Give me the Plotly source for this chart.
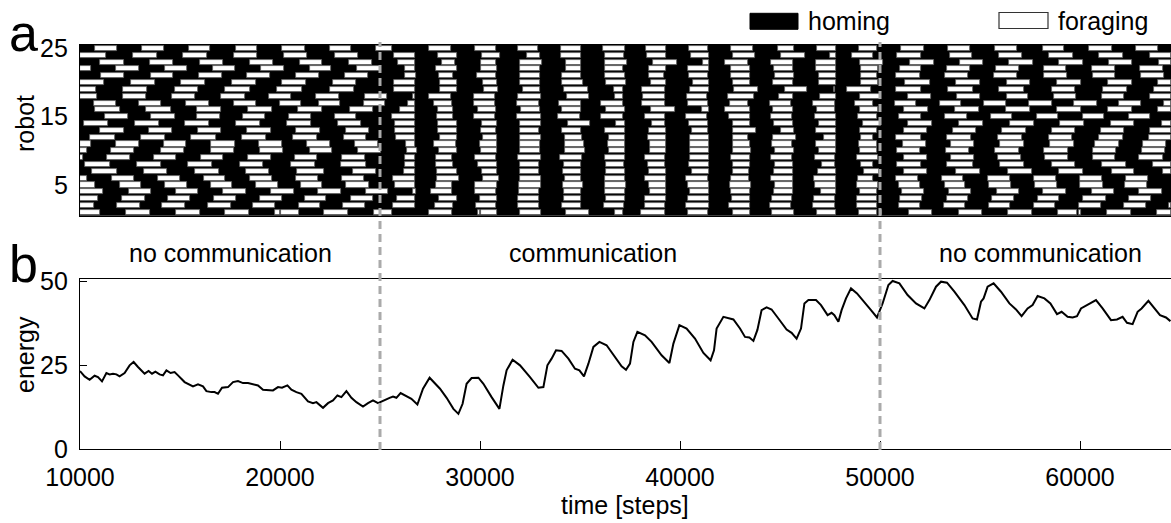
import plotly.graph_objects as go

# ---------------- data ----------------
robots = list(range(1, 26))

# foraging bouts per robot: [start, end] in simulation steps
r01 = [[10000,11000],[12300,13500],[14800,16000],[17250,18450],[19750,20000],[20050,20950],[22200,23400],[24700,25600],[27450,28600],[29900,30000],[30050,30850],[32000,33050],[34300,35450],[36750,37150],[38050,39250],[40400,41400],[42650,43500],[44600,45700],[46850,47800],[48950,49850],[50000,50100],[51450,52600],[53950,55100],[56400,57600],[58900,59850],[59950,60050],[61350,62550],[63850,64550]]
r02 = [[10000,10700],[11850,13000],[14100,15250],[16400,17550],[18650,19750],[20950,22000],[23150,24250],[25650,26750],[27750,28650],[29800,30800],[31900,32950],[34100,35050],[36200,37200],[38250,39250],[40300,41450],[42450,43500],[44500,45550],[46650,47750],[48850,49850],[50950,52000],[53200,54250],[55450,56500],[57700,58750],[59950,61050],[62200,63300],[64450,64550]]
r03 = [[10000,10900],[12100,13250],[14400,15500],[16700,17800],[19000,20100],[21250,22300],[23550,24650],[25850,26750],[27950,28850],[30000,30850],[31900,32950],[34200,35050],[36300,37250],[38250,39300],[40400,41450],[42600,43500],[44600,45600],[46700,47750],[48850,49850],[51000,52100],[53350,54400],[55600,56700],[57900,58950],[60150,61300],[62450,63550]]
r04 = [[10000,11150],[12450,13550],[14800,15900],[17150,18300],[19550,20700],[21900,23050],[24300,25400],[26650,26800],[27550,28600],[29750,30800],[31950,32950],[34200,35050],[36250,37250],[38500,39300],[40500,41450],[42550,43500],[44700,45650],[47050,47800],[49000,49850],[51100,52200],[53450,54550],[55850,56950],[58150,59300],[60600,61700],[62950,64100]]
r05 = [[10000,10750],[12000,13050],[14250,15350],[16550,17600],[18800,19900],[21050,22100],[23300,24450],[25750,26750],[27800,28600],[29750,30850],[31950,33050],[34150,35150],[36250,37300],[38450,39300],[40400,41450],[42500,43550],[44750,45650],[46750,47800],[48850,49900],[50950,52000],[53250,54250],[55450,56550],[57750,58850],[60000,61150],[62250,63350]]
r06 = [[10000,10350],[11600,12700],[13900,15000],[16200,17250],[18500,19600],[20800,21900],[23100,24200],[25650,26750],[27850,28950],[30150,30950],[32000,33050],[34250,35050],[36250,37250],[38250,39300],[40300,41400],[42550,43450],[44550,45650],[46700,47800],[48900,49650],[50800,51900],[53100,54150],[55400,56500],[57700,58800],[60000,61100],[62300,63400]]
r07 = [[10600,11850],[13200,14350],[15750,16950],[18300,19450],[20850,22200],[23650,24800],[26200,26750],[27850,28850],[30100,30850],[32000,32950],[34150,35050],[36300,37250],[38450,39300],[40600,41450],[42650,43450],[44700,45650],[46900,47800],[49200,49950],[51200,52350],[53800,55000],[56400,57600],[58950,60150],[61600,62700],[64150,64550]]
r08 = [[10250,11500],[12850,14050],[15400,16600],[18000,19150],[20550,21750],[23050,24300],[26250,26750],[27800,28650],[29900,30850],[32000,32950],[34200,35050],[36300,37200],[38400,39250],[40450,41450],[42650,43500],[44750,45650],[47100,47750],[49050,49650],[50850,52050],[53350,54650],[56000,57200],[58600,59750],[61100,62300],[63650,64550]]
r09 = [[10000,10150],[11350,12500],[13700,14800],[16050,17150],[18400,19550],[20750,21850],[23100,24250],[26250,26750],[27800,28600],[29750,30800],[31900,33050],[34000,35100],[36250,37250],[38250,39250],[40500,41450],[42550,43500],[44550,45600],[46750,47750],[48850,49900],[51200,52350],[53550,54700],[55900,57050],[58250,59400],[60650,61750],[62950,64150]]
r10 = [[10000,10350],[11550,12700],[14050,15200],[16550,17700],[19000,20150],[21500,22600],[23900,25050],[26350,26850],[27950,28850],[30050,30850],[32000,33000],[34250,35250],[36450,37250],[38500,39300],[40500,41450],[42650,43550],[44750,45700],[46950,47800],[49000,49850],[50850,52000],[53300,54450],[55750,56950],[58200,59400],[60650,61800],[63100,64250]]
r11 = [[10000,10550],[11800,12950],[14200,15300],[16550,17750],[18950,20100],[21350,22500],[23750,24900],[26300,26750],[27700,28800],[30000,30850],[32000,33000],[34250,35200],[36400,37250],[38500,39300],[40500,41450],[42650,43500],[44600,45600],[46800,47800],[48950,49850],[51150,52300],[53550,54700],[56000,57200],[58500,59700],[60750,61950],[63150,64300]]
r12 = [[10500,11750],[13050,14250],[15550,16800],[18100,19300],[20650,21850],[23200,24300],[25800,26750],[28000,28850],[30150,30850],[32000,33050],[34250,35100],[36450,37250],[38400,39300],[40500,41450],[42650,43400],[44650,45800],[47200,47800],[49050,49650],[50800,52050],[53350,54550],[55900,57100],[58450,59600],[60950,62150],[63450,64550]]
r13 = [[11000,12200],[13450,14600],[15900,17050],[18350,19550],[20800,22000],[23300,24450],[25750,26750],[27900,28850],[30050,30800],[32000,32950],[34100,35050],[36250,37250],[38450,39300],[40600,41400],[42650,43800],[45050,45700],[46800,47800],[49000,49850],[51200,52350],[53650,54800],[56100,57300],[58600,59750],[61050,62200],[63500,64550]]
r14 = [[10200,11400],[12750,13950],[15250,16450],[17800,19000],[20350,21550],[22900,24050],[25750,26750],[27900,28850],[30100,30850],[32000,33050],[34400,35500],[36800,37250],[38600,39250],[40450,41400],[42650,43500],[44700,45650],[46950,47800],[49150,50050],[51400,52600],[53950,55150],[56500,57700],[59000,60200],[61550,62700],[64100,64550]]
r15 = [[11250,12400],[13550,14750],[15850,17000],[18150,19250],[20450,21550],[22750,23800],[25600,26750],[27850,28650],[29700,30750],[31850,33050],[33900,35000],[36050,37150],[38250,39250],[40300,41350],[42450,43500],[44550,45600],[46750,47800],[48900,49850],[50950,52050],[53250,54350],[55550,56600],[57850,58900],[60150,61200],[62450,63500]]
r16 = [[10750,12000],[13300,14550],[15850,17050],[18400,19600],[20900,22100],[23500,24650],[26000,26750],[27900,28650],[29900,30800],[32050,33000],[34100,35050],[36300,37250],[38550,39750],[41100,41450],[42250,43500],[44650,45650],[46850,47750],[49000,49900],[51200,52400],[53750,54950],[56300,57500],[58850,60050],[61400,62600],[63900,64550]]
r17 = [[10700,11800],[12950,14050],[15300,16450],[17700,18800],[20000,21050],[21950,23000],[24200,25250],[26400,26750],[27700,28600],[29700,30750],[31850,32950],[33950,35050],[36050,37150],[38100,39250],[40400,41400],[42500,43400],[44500,45550],[46650,47750],[48750,49650],[50750,51800],[53000,54050],[55200,56300],[57450,58600],[59700,60850],[61950,63050],[64200,64550]]
r18 = [[10000,10850],[12150,13300],[14600,15750],[17050,18250],[19450,20550],[21800,22950],[24250,25350],[26650,26750],[27450,28550],[29700,30750],[31900,33050],[34350,35450],[36750,37150],[38150,39250],[40350,41350],[42400,43700],[44950,45650],[47000,47800],[49000,50050],[51400,52550],[53850,55000],[56350,57400],[58700,59800],[61100,62200],[63500,64550]]
r19 = [[10000,10800],[12150,13350],[14750,15900],[17250,18500],[19850,21100],[22500,23700],[25700,26750],[28000,28850],[30200,30900],[32150,33000],[34200,35400],[36700,37150],[38100,39250],[40500,41450],[42700,43900],[45250,46350],[47700,47750],[48350,49550],[50800,52050],[53400,54650],[55950,57200],[58600,59750],[61150,62350],[63700,64550]]
r20 = [[10000,11200],[12550,13750],[15050,16250],[17600,18800],[20100,21300],[22650,23800],[25700,26750],[28000,28850],[30150,30850],[32000,33000],[34100,35150],[36300,37300],[38550,39300],[40650,41450],[42650,43500],[44650,45650],[46950,47800],[49050,49900],[51250,52500],[53800,55000],[56350,57500],[58850,60050],[61400,62600],[63900,64550]]
r21 = [[11050,12200],[13550,14650],[15950,17100],[18350,19500],[20800,21950],[23250,24400],[26250,26800],[27950,28650],[29850,30800],[32000,33000],[34100,35050],[36250,37250],[38450,39200],[40450,41400],[42550,43500],[44750,45700],[46950,47800],[49050,49850],[50800,52000],[53250,54400],[55700,56850],[58200,59350],[60650,61750],[63050,64200]]
r22 = [[10000,10550],[11800,12950],[14250,15350],[16650,17750],[19050,20200],[21500,22550],[23850,25000],[26250,26750],[27800,28850],[30050,30850],[32000,33000],[34300,35050],[36250,37150],[38450,39300],[40400,41450],[42550,43500],[44700,45650],[46800,47800],[49050,49900],[51000,52050],[53350,54500],[55800,56950],[58200,59300],[60600,61750],[63000,64150]]
r23 = [[11000,12200],[13500,14650],[16000,17150],[18500,19650],[21000,22100],[23450,24600],[25900,26750],[28100,28750],[30050,30800],[32000,33100],[34300,35050],[36250,37350],[38650,39850],[41150,41450],[42250,43400],[44550,45650],[46800,47800],[49000,50150],[51500,52700],[54000,55150],[56450,57650],[58950,60150],[61450,62600],[63950,64550]]
r24 = [[10000,11300],[12650,13850],[15150,16350],[17700,18850],[20200,21350],[22750,23900],[25700,26750],[27900,28850],[30100,31000],[32350,33000],[34050,35050],[36250,37200],[38350,39300],[40550,41450],[42650,43750],[45050,46250],[47500,47800],[48600,49650],[50850,52050],[53500,54600],[55950,57100],[58450,59650],[60950,62150],[63500,64550]]
r25 = [[10750,11850],[13100,14200],[15450,16500],[17800,18850],[20100,21250],[22500,23550],[24800,25600],[27450,28550],[29750,30800],[31900,32900],[34050,35050],[36150,37250],[38300,39300],[40450,41400],[42550,43650],[44900,45700],[46850,47800],[48950,49850],[51050,52200],[53400,54500],[55750,56850],[58150,59200],[60450,61600],[62800,63900]]

foraging_bouts = [r01, r02, r03, r04, r05, r06, r07, r08, r09, r10, r11, r12, r13,
                  r14, r15, r16, r17, r18, r19, r20, r21, r22, r23, r24, r25]

# energy of the swarm
energy_t = [10000, 10230, 10480, 10730, 10900, 11100, 11320, 11480, 11650, 11820, 11980, 12230,
            12480, 12680, 12900, 13230, 13430, 13600, 13770, 13980, 14150, 14320, 14530, 14730,
            14900, 15230, 15650, 15900, 16150, 16320, 16570, 16730, 16900, 17100, 17400, 17650,
            17900, 18150, 18400, 18650, 18900, 19150, 19400, 19650, 19900, 20100, 20370, 20570,
            20820, 21070, 21400, 21650, 21820, 22150, 22400, 22650, 22870, 23070, 23320, 23570,
            23820, 24150, 24400, 24650, 24900, 25230, 25480, 25650, 25820, 26030, 26320, 26570,
            26870, 27150, 27480, 27820, 28000, 28330, 28670, 28920, 29130, 29330, 29580, 29920,
            30170, 30580, 30970, 31170, 31330, 31630, 32000, 32500, 32920, 33170, 33370, 33580,
            33800, 34080, 34420, 34750, 34970, 35200, 35420, 35670, 35970, 36330, 36670, 37080,
            37300, 37500, 37670, 37870, 38250, 38580, 39080, 39470, 39670, 39970, 40330, 40750,
            41170, 41530, 41700, 41830, 42170, 42500, 42670, 43000, 43250, 43470, 43670, 43870,
            44080, 44330, 44580, 44920, 45330, 45580, 45830, 46050, 46220, 46420, 46800, 47050,
            47380, 47580, 47720, 47920, 48080, 48300, 48550, 48850, 49220, 49550, 49850, 50130,
            50420, 50630, 50970, 51380, 51800, 52220, 52470, 52800, 53050, 53350, 53720, 54220,
            54630, 54850, 55050, 55180, 55380, 55680, 56050, 56470, 56800, 57080, 57380, 57630,
            57880, 58220, 58520, 58850, 59080, 59380, 59630, 59850, 60050, 60420, 60800, 61130,
            61550, 61850, 62130, 62350, 62630, 62880, 63080, 63420, 63630, 64000, 64300, 64520]
energy_v = [23.3, 21.7, 20.7, 21.9, 21.5, 20.2, 22.7, 22.3, 22.5, 22.3, 21.7, 22.7,
            25.0, 26.0, 24.5, 22.5, 23.3, 22.5, 23.1, 22.3, 22.0, 23.5, 22.7, 23.0,
            22.0, 20.0, 18.7, 19.3, 18.7, 17.3, 17.0, 17.0, 16.5, 18.3, 18.5, 20.0,
            20.3, 19.7, 19.7, 19.3, 19.0, 17.7, 17.5, 17.5, 18.5, 18.3, 19.0, 17.7,
            17.0, 16.5, 14.2, 13.7, 14.0, 12.3, 13.7, 14.5, 16.0, 15.5, 17.3, 15.3,
            14.0, 12.7, 13.7, 14.5, 13.7, 14.7, 15.3, 15.7, 15.3, 16.7, 15.7, 15.0,
            13.3, 18.0, 21.3, 19.3, 18.0, 15.3, 12.0, 10.5, 13.5, 19.5, 21.2, 21.3,
            19.5, 15.5, 12.0, 19.0, 23.5, 26.7, 25.0, 21.5, 18.3, 18.5, 25.0, 27.0,
            29.5, 29.3, 27.0, 24.0, 23.5, 21.7, 25.5, 30.5, 32.0, 31.0, 28.3, 24.7,
            23.7, 25.5, 32.0, 35.0, 34.0, 32.0, 28.0, 25.7, 31.5, 37.0, 36.0, 33.0,
            28.7, 26.5, 29.5, 36.0, 39.5, 39.0, 38.7, 36.0, 33.5, 33.3, 32.3, 35.6,
            41.5, 42.3, 41.7, 39.0, 35.7, 34.7, 33.0, 36.0, 43.5, 44.5, 44.5, 43.0,
            40.0, 40.7, 40.0, 38.0, 41.5, 45.0, 48.0, 46.5, 44.0, 41.5, 39.3, 43.5,
            49.0, 50.2, 49.5, 46.0, 43.5, 42.0, 44.5, 48.5, 50.0, 49.7, 47.0, 43.0,
            39.0, 38.7, 44.0, 45.0, 48.5, 49.5, 47.0, 43.5, 41.7, 39.7, 42.0, 43.0,
            45.7, 45.0, 43.5, 40.3, 41.0, 39.5, 39.3, 39.7, 42.0, 43.3, 44.5, 42.0,
            38.5, 38.7, 39.5, 37.7, 37.3, 41.0, 42.0, 44.3, 42.7, 40.0, 39.3, 38.2]

time_ticks = [10000, 20000, 30000, 40000, 50000, 60000]
time_range = [10000, 64550]
robot_ticks = [5, 15, 25]
energy_ticks = [0, 25, 50]
energy_range = [0, 50.8]
phase_bounds = [25000, 50000]
phase_labels = ["no communication", "communication", "no communication"]
legend_labels = ["homing", "foraging"]

# ---------------- figure ----------------
FONT = "Liberation Sans, Arial, Helvetica, sans-serif"
W, H = 1171, 523
ML, MR, MT, MB = 80, 0, 45, 74
PW, PH = W - ML - MR, H - MT - MB


def px(x):
    return (x - ML) / PW


def py(y):
    return (H - MB - y) / PH


ys, bases, lens = [], [], []
for r, bouts in zip(robots, foraging_bouts):
    for s, e in bouts:
        ys.append(r)
        bases.append(s)
        lens.append(e - s)

fig = go.Figure()
fig.add_trace(go.Bar(
    orientation="h", y=ys, x=lens, base=bases, width=0.74,
    marker=dict(color="white", line=dict(color="#606060", width=0.8)),
    xaxis="x2", yaxis="y", hoverinfo="skip", showlegend=False,
))
fig.add_trace(go.Scatter(
    x=energy_t, y=energy_v, mode="lines",
    line=dict(color="black", width=2),
    xaxis="x", yaxis="y2", hoverinfo="skip", showlegend=False,
))

axis_common = dict(showgrid=False, zeroline=False, showline=True, linecolor="black",
                   linewidth=1.3, mirror=True, tickcolor="black", automargin=False,
                   tickfont=dict(family=FONT, size=25, color="black"))

fig.update_layout(
    width=W, height=H,
    margin=dict(l=ML, r=MR, t=MT, b=MB, autoexpand=False),
    paper_bgcolor="white", plot_bgcolor="white",
    font=dict(family=FONT, size=25, color="black"),
    barmode="overlay", bargap=0, showlegend=False,
    xaxis=dict(domain=[0, 1], anchor="y2", range=time_range, tickvals=time_ticks,
               tickformat="d", ticks="inside", ticklen=8, ticklabelstandoff=6, **axis_common),
    xaxis2=dict(domain=[0, 1], anchor="y", range=time_range, matches="x",
                showticklabels=False, ticks="", **axis_common),
    yaxis=dict(domain=[py(215.7), 1], anchor="x2", range=[0.5, 25.5], tickvals=robot_ticks,
               ticks="", ticklabelstandoff=6, **axis_common),
    yaxis2=dict(domain=[0, py(279)], anchor="x", range=energy_range, tickvals=energy_ticks,
                ticks="inside", ticklen=7, ticklabelstandoff=6, **axis_common),
)

shapes = [
    # black background = homing state
    dict(type="rect", xref="x2 domain", yref="y domain", x0=0, x1=1, y0=0, y1=1,
         fillcolor="black", line=dict(width=0), layer="below"),
    # legend swatches
    dict(type="rect", xref="paper", yref="paper", x0=px(750), x1=px(798),
         y0=py(29.3), y1=py(13.3), fillcolor="black", line=dict(color="black", width=1)),
    dict(type="rect", xref="paper", yref="paper", x0=px(999), x1=px(1048),
         y0=py(28.5), y1=py(12.5), fillcolor="white", line=dict(color="#333333", width=1.2)),
]
for xb in phase_bounds:
    shapes.append(dict(type="line", xref="x", yref="paper", x0=xb, x1=xb,
                       y0=py(450), y1=py(42), layer="above",
                       line=dict(color="#aaaaaa", width=3, dash="8px,5px")))
fig.update_layout(shapes=shapes)

ann = []
# legend labels
ann.append(dict(text=legend_labels[0], xref="paper", yref="paper", x=px(806), y=py(21),
                xanchor="left", yanchor="middle", showarrow=False, font=dict(size=25)))
ann.append(dict(text=legend_labels[1], xref="paper", yref="paper", x=px(1056), y=py(20.5),
                xanchor="left", yanchor="middle", showarrow=False, font=dict(size=25)))
# phase labels
for lab, cx in zip(phase_labels, [230, 593, 1040]):
    ann.append(dict(text=lab, xref="paper", yref="paper", x=px(cx), y=py(253),
                    xanchor="center", yanchor="middle", showarrow=False, font=dict(size=25)))
# panel letters
ann.append(dict(text="a", xref="paper", yref="paper", x=px(24), y=py(33),
                xanchor="center", yanchor="middle", showarrow=False, font=dict(size=52)))
ann.append(dict(text="b", xref="paper", yref="paper", x=px(24), y=py(264),
                xanchor="center", yanchor="middle", showarrow=False, font=dict(size=52)))
# axis titles
ann.append(dict(text="robot", xref="paper", yref="paper", x=px(25), y=py(124), textangle=-90,
                xanchor="center", yanchor="middle", showarrow=False, font=dict(size=25)))
ann.append(dict(text="energy", xref="paper", yref="paper", x=px(25), y=py(355), textangle=-90,
                xanchor="center", yanchor="middle", showarrow=False, font=dict(size=25)))
ann.append(dict(text="time [steps]", xref="paper", yref="paper", x=px(625), y=py(505),
                xanchor="center", yanchor="middle", showarrow=False, font=dict(size=25)))
fig.update_layout(annotations=ann)

fig.write_html("out.html", config={"displayModeBar": False},
               post_script="document.body.style.margin='0px';document.body.style.overflow='hidden';")
